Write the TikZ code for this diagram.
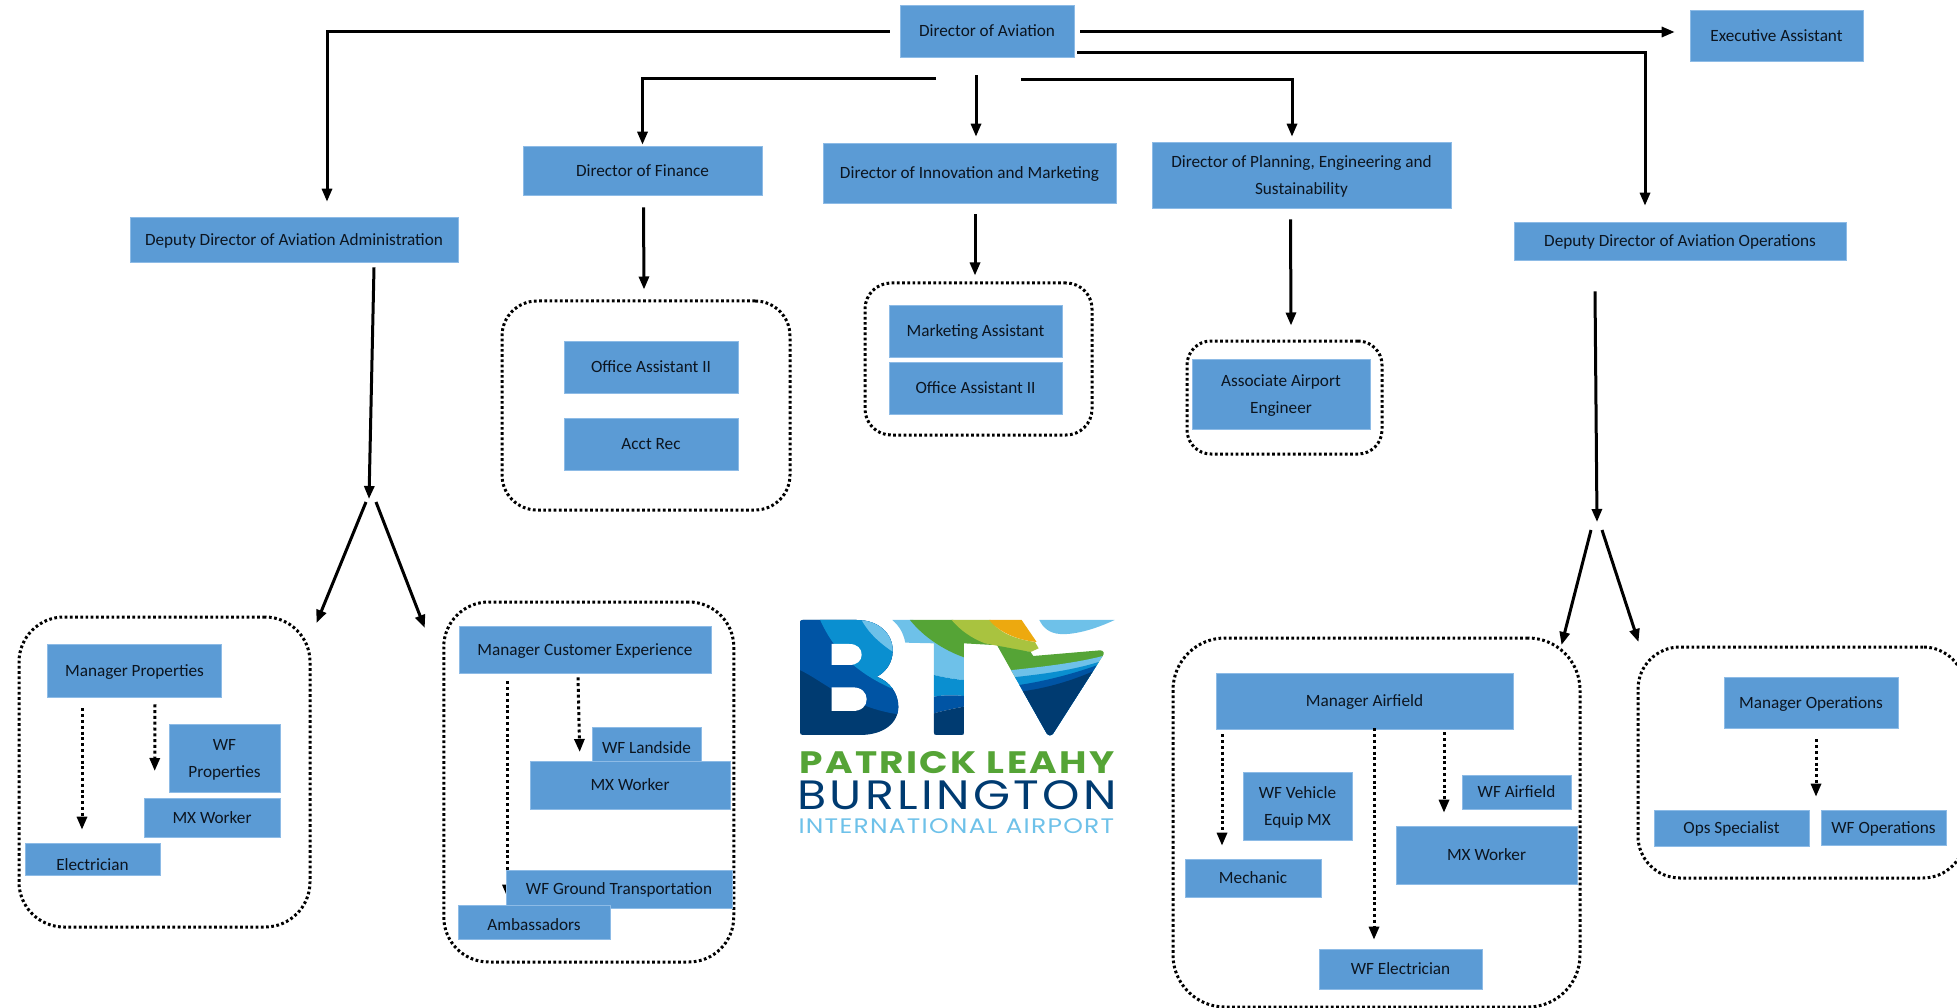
\documentclass[tikz,border=0pt]{standalone}
\usepackage{fontspec}
\setmainfont{Carlito}
\newfontfamily\logofont{Poppins}
\usetikzlibrary{calc}
\usetikzlibrary{arrows.meta}
\usetikzlibrary{backgrounds}
\definecolor{boxBlue}{HTML}{5B9BD5}
\definecolor{boxEdge}{HTML}{8DBBE6}
\definecolor{boxText}{HTML}{0C1520}
\definecolor{logoDark}{HTML}{003B71}
\definecolor{logoRoyal}{HTML}{0054A4}
\definecolor{logoMid}{HTML}{0A8FD0}
\definecolor{logoLight}{HTML}{6EC1E9}
\definecolor{logoGreen}{HTML}{55A436}
\definecolor{logoLime}{HTML}{A9C33F}
\definecolor{logoOrange}{HTML}{EDA90F}
\tikzset{
  blueBox/.style={rectangle, fill=boxBlue, draw=boxEdge, line width=0.6pt, text=boxText, align=center, inner sep=0pt, text depth=-2pt, font=\fontsize{17.2}{27}\selectfont},
  groupBox/.style={rectangle, draw=black, line width=3pt, dash pattern=on 2.7pt off 2.5pt},
  mainLine/.style={draw=black, line width=3pt, -{Triangle[length=13pt,width=10pt]}},
  dotLine/.style={draw=black, line width=3pt, dash pattern=on 3pt off 2.8pt, -{Triangle[length=13pt,width=10pt]}},
  logoText/.style={inner sep=0pt, anchor=base, text depth=0pt, transform shape}
}

\begin{document}
\begin{tikzpicture}[x=1pt, y=-1pt]
    \useasboundingbox (0,0) rectangle (1957,1008);

    \node [groupBox, rounded corners=35pt, minimum width=288pt, minimum height=209pt] (groupFinance) at (646,405.5) {};
    \node [groupBox, rounded corners=26pt, minimum width=227pt, minimum height=152pt] (groupMarketing) at (978.5,359) {};
    \node [groupBox, rounded corners=24pt, minimum width=195pt, minimum height=113pt] (groupEngineer) at (1284.5,397.5) {};
    \node [groupBox, rounded corners=45pt, minimum width=291pt, minimum height=310pt] (groupProperties) at (164.5,772) {};
    \node [groupBox, rounded corners=45pt, minimum width=290pt, minimum height=360pt] (groupCustomer) at (588.75,782) {};
    \node [groupBox, rounded corners=52pt, minimum width=407pt, minimum height=369pt] (groupAirfield) at (1376.5,822.5) {};
    \node [groupBox, rounded corners=42pt, minimum width=327pt, minimum height=231pt] (groupOperations) at (1801.5,762.5) {};

    \node [blueBox, minimum width=174pt, minimum height=52pt] (directorAviation) at (987,31) {Director of Aviation};
    \node [blueBox, minimum width=173pt, minimum height=51pt] (executiveAssistant) at (1776.5,35.5) {Executive Assistant};
    \node [blueBox, minimum width=328pt, minimum height=45pt] (deputyAdmin) at (294,239.5) {Deputy Director of Aviation Administration};
    \node [blueBox, minimum width=239pt, minimum height=49pt] (directorFinance) at (642.5,170.5) {Director of Finance};
    \node [blueBox, minimum width=293pt, minimum height=60pt] (directorInnovation) at (969.5,173) {Director of Innovation and Marketing};
    \node [blueBox, minimum width=299pt, minimum height=66pt] (directorPlanning) at (1301.5,175) {Director of Planning, Engineering and\\Sustainability};
    \node [blueBox, minimum width=332pt, minimum height=38pt] (deputyOps) at (1680,241) {Deputy Director of Aviation Operations};

    \node [blueBox, minimum width=174pt, minimum height=52pt] (officeFinance) at (651,367) {Office Assistant II};
    \node [blueBox, minimum width=174pt, minimum height=52pt] (acctRec) at (651,444) {Acct Rec};
    \node [blueBox, minimum width=173pt, minimum height=52pt] (marketingAssistant) at (975.5,331) {Marketing Assistant};
    \node [blueBox, minimum width=173pt, minimum height=52pt] (officeMarketing) at (975.5,388) {Office Assistant II};
    \node [blueBox, minimum width=178pt, minimum height=70pt] (associateEngineer) at (1281,394) {Associate Airport\\Engineer};

    \node [blueBox, minimum width=174pt, minimum height=53pt] (managerProperties) at (134.5,670.5) {Manager Properties};
    \node [blueBox, minimum width=111pt, minimum height=68pt] (wfProperties) at (224.5,758) {WF\\Properties};
    \node [blueBox, minimum width=136pt, minimum height=39pt] (mxProperties) at (212,817.5) {MX Worker};
    \node [blueBox, minimum width=135pt, minimum height=32pt] (electrician) at (92.5,859) {\raisebox{-5pt}[12pt][0pt]{Electrician}};

    \node [blueBox, minimum width=252pt, minimum height=47pt] (managerCustomer) at (585,649.5) {Manager Customer Experience};
    \node [blueBox, minimum width=109pt, minimum height=34pt] (wfLandside) at (646.5,744) {\raisebox{-3pt}[12pt][0pt]{WF Landside}};
    \node [blueBox, minimum width=200pt, minimum height=48pt] (mxCustomer) at (630,785) {MX Worker};
    \node [blueBox, minimum width=226pt, minimum height=38pt] (wfGround) at (619,889) {WF Ground Transportation};
    \node [blueBox, minimum width=152pt, minimum height=34pt] (ambassadors) at (534,922) {\raisebox{-2pt}[12pt][0pt]{Ambassadors}};

    \node [blueBox, minimum width=297pt, minimum height=56pt] (managerAirfield) at (1364.5,701) {Manager Airfield};
    \node [blueBox, minimum width=109pt, minimum height=68pt] (wfVehicle) at (1297.5,806) {WF Vehicle\\Equip MX};
    \node [blueBox, minimum width=109pt, minimum height=34pt] (wfAirfield) at (1516.5,792) {WF Airfield};
    \node [blueBox, minimum width=181pt, minimum height=58pt] (mxAirfield) at (1486.5,855) {MX Worker};
    \node [blueBox, minimum width=136pt, minimum height=38pt] (mechanic) at (1253,878) {Mechanic};
    \node [blueBox, minimum width=163pt, minimum height=40pt] (wfElectrician) at (1400.5,969) {WF Electrician};

    \node [blueBox, minimum width=174pt, minimum height=51pt] (managerOperations) at (1811,702.5) {Manager Operations};
    \node [blueBox, minimum width=155pt, minimum height=36pt] (opsSpecialist) at (1731.5,828) {Ops Specialist};
    \node [blueBox, minimum width=125pt, minimum height=35pt] (wfOperations) at (1883.5,827.5) {WF Operations};

    \coordinate (adminFork) at (369,499);
    \coordinate (opsFork) at (1597,522);

    \draw [mainLine] ($(directorAviation.west)+(-10,1)$) -| ($(deputyAdmin.north)+(33,-15)$);
    \draw [mainLine] ($(directorAviation.east)+(6,1)$) -- ($(executiveAssistant.west)+(-15,-3.5)$);
    \draw [mainLine] ($(directorAviation.east)+(3,22)$) -| ($(deputyOps.north)+(-35,-16)$);
    \draw [mainLine] ($(directorAviation.south)+(-51,21)$) -| ($(directorFinance.north)+(0,-1)$);
    \draw [mainLine] ($(directorAviation.south)+(-11,18)$) -- ($(directorInnovation.north)+(6.5,-6)$);
    \draw [mainLine] ($(directorAviation.south)+(34,22)$) -| ($(directorPlanning.north)+(-9.5,-5)$);

    \draw [mainLine] ($(directorFinance.south)+(1,12)$) -- ($(groupFinance.north)+(-2,-10)$);
    \draw [mainLine] ($(directorInnovation.south)+(5.5,11)$) -- ($(groupMarketing.north)+(-3.5,-6)$);
    \draw [mainLine] ($(directorPlanning.south)+(-11,11)$) -- ($(groupEngineer.north)+(6.5,-14)$);

    \draw [mainLine] ($(deputyAdmin.south)+(80,5)$) -- (adminFork);
    \draw [mainLine] ($(adminFork)+(-3,3)$) -- ($(groupProperties.east)+(5,-149)$);
    \draw [mainLine] ($(adminFork)+(7,3)$) -- ($(groupCustomer.west)+(-17.5,-154)$);
    \draw [mainLine] ($(deputyOps.south)+(-85,31)$) -- (opsFork);
    \draw [mainLine] ($(opsFork)+(-6,8)$) -- ($(groupAirfield.east)+(-20,-177.5)$);
    \draw [mainLine] ($(opsFork)+(5,8)$) -- ($(groupOperations.west)+(2,-120.5)$);

    \draw [dotLine] ($(managerProperties.south)+(-52.5,11)$) -- ($(electrician.north)+(-10.5,-13)$);
    \draw [dotLine] ($(managerProperties.south)+(20.5,7)$) -- ($(wfProperties.west)+(-14,13)$);
    \begin{scope}[on background layer]
        \draw [dotLine] ($(managerCustomer.south)+(-77.5,8)$) -- ($(ambassadors.north)+(-26.5,-7)$);
    \end{scope}
    \draw [dotLine] ($(managerCustomer.south)+(-7,4)$) -- ($(wfLandside.west)+(-12,8)$);
    \draw [dotLine] ($(managerAirfield.south)+(-142.5,5)$) -- ($(mechanic.north)+(-31,-13)$);
    \draw [dotLine] ($(managerAirfield.south)+(9.5,-1)$) -- ($(wfElectrician.north)+(-26.5,-9)$);
    \draw [dotLine] ($(managerAirfield.south)+(79.5,3)$) -- ($(mxAirfield.north)+(-42.5,-13)$);
    \draw [dotLine] ($(managerOperations.south)+(5,11)$) -- ($(opsSpecialist.north)+(84.5,-13)$);

    \begin{scope}[shift={(760,580)}, x=0.3333pt, y=-0.3333pt]
        \begin{scope}
            \clip (128,120) -- (290,120) .. controls (355,120) and (398,160) .. (398,212) .. controls (398,250) and (375,278) .. (350,290) .. controls (390,305) and (415,340) .. (415,380) .. controls (415,430) and (370,465) .. (300,465) -- (128,465) .. controls (122,465) and (120,462) .. (120,456) -- (120,128) .. controls (120,123) and (122,120) .. (128,120) -- cycle;
            \fill [logoDark] (100,100) rectangle (430,480);
            \fill [logoRoyal] (100,100) -- (100,262) .. controls (180,290) and (260,385) .. (430,405) -- (430,100) -- cycle;
            \fill [logoMid] (172,100) .. controls (220,220) and (300,290) .. (430,340) -- (430,100) -- cycle;
            \fill [logoLight] (295,100) .. controls (320,160) and (370,200) .. (430,235) -- (430,100) -- cycle;
        \end{scope}
        \fill [white] (215,192) -- (268,192) .. controls (292,192) and (305,206) .. (305,224) .. controls (305,242) and (292,255) .. (268,255) -- (215,255) -- cycle;
        \fill [white] (215,322) -- (278,322) .. controls (305,322) and (320,338) .. (320,358) .. controls (320,378) and (305,393) .. (278,393) -- (215,393) -- cycle;

        \fill [logoLight] (397,120) -- (460,120) .. controls (500,170) and (560,210) .. (612,232) -- (612,300) .. controls (585,298) and (550,292) .. (522,285) -- (522,190) -- (436,188) .. controls (430,160) and (420,140) .. (397,120) -- cycle;
        \fill [logoMid] (522,285) .. controls (550,292) and (585,298) .. (612,300) -- (612,348) .. controls (585,345) and (550,345) .. (522,350) -- cycle;
        \fill [logoRoyal] (522,350) .. controls (550,345) and (585,345) .. (612,348) -- (612,380) .. controls (585,385) and (550,392) .. (522,400) -- cycle;
        \fill [logoDark] (522,400) .. controls (550,392) and (585,385) .. (612,380) -- (612,458) .. controls (612,463) and (610,465) .. (605,465) -- (529,465) .. controls (524,465) and (522,463) .. (522,458) -- cycle;
        \fill [logoGreen] (450,120) -- (580,120) .. controls (610,150) and (650,175) .. (700,195) -- (612,190) -- (612,232) .. controls (550,210) and (490,170) .. (450,120) -- cycle;
        \fill [logoLime] (575,120) -- (692,120) .. controls (710,150) and (750,175) .. (825,186) -- (836,205) -- (812,216) .. controls (770,212) and (740,205) .. (715,198) -- (675,190) .. controls (635,175) and (600,150) .. (575,120) -- cycle;
        \fill [logoOrange] (688,120) -- (785,120) -- (830,186) .. controls (770,180) and (715,155) .. (688,120) -- cycle;
        \begin{scope}
            \clip (712,197) -- (812,216) -- (820,228) -- (1020,211) .. controls (1032,211) and (1034,220) .. (1028,228) -- (880,460) .. controls (874,468) and (866,468) .. (860,460) -- cycle;
            \fill [logoGreen] (700,190) rectangle (1040,300);
            \fill [logoLight] (740,272) .. controls (830,262) and (950,250) .. (1040,225) -- (1040,480) -- (740,480) -- cycle;
            \fill [logoMid] (760,292) .. controls (850,282) and (950,270) .. (1040,238) -- (1040,480) -- (760,480) -- cycle;
            \fill [logoRoyal] (770,316) .. controls (850,305) and (950,280) .. (1040,245) -- (1040,480) -- (770,480) -- cycle;
            \fill [logoDark] (780,335) .. controls (860,325) and (950,300) .. (1040,255) -- (1040,480) -- (780,480) -- cycle;
        \end{scope}
        \fill [logoLight] (838,120) -- (1064,120) .. controls (1000,150) and (940,165) .. (900,162) .. controls (870,160) and (850,145) .. (838,120) -- cycle;

        \node [logoText, xscale=1.21, text=logoGreen, text height=22pt, font=\logofont\bfseries\fontsize{31}{31}\selectfont] (logoPatrick) at (591,580) {\addfontfeature{LetterSpace=6}PATRICK LEAHY};
        \node [logoText, xscale=1.16, text=logoDark, text height=27pt, font=\logofont\fontsize{41}{41}\selectfont] (logoBurlington) at (591,690) {\addfontfeature{LetterSpace=7}BURLINGTON};
        \node [logoText, xscale=1.19, text=logoLight, text height=15pt, font=\logofont\fontsize{21}{21}\selectfont] (logoInternational) at (589,760) {\addfontfeature{LetterSpace=5}INTERNATIONAL AIRPORT};
    \end{scope}
\end{tikzpicture}
\end{document}
